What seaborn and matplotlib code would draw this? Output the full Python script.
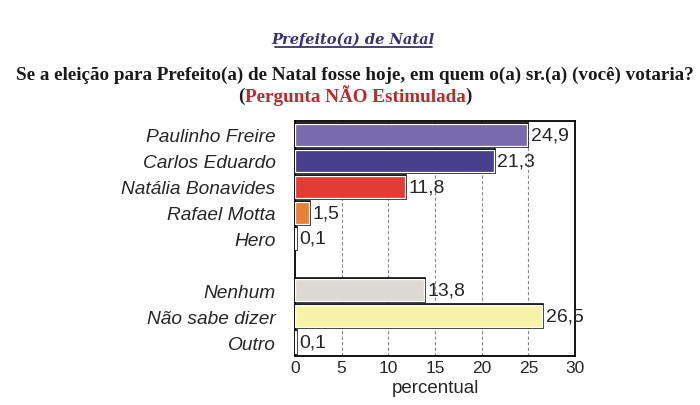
import matplotlib
matplotlib.use("Agg")
import matplotlib.pyplot as plt
import seaborn as sns
import pandas as pd
import numpy as np

categories = ["Paulinho Freire", "Carlos Eduardo", "Natália Bonavides", "Rafael Motta",
              "Hero", " ", "Nenhum", "Não sabe dizer", "Outro"]
values = [24.9, 21.3, 11.8, 1.5, 0.1, np.nan, 13.8, 26.5, 0.1]
labels = ["24,9", "21,3", "11,8", "1,5", "0,1", "", "13,8", "26,5", "0,1"]
colors = ["#7A6AAE", "#4A3F8C", "#E33B36", "#E8803A", "#FFFFFF", "#FFFFFF",
          "#DDDAD6", "#F7F3A6", "#FFFFFF"]
xticks = [0, 5, 10, 15, 20, 25, 30]

sns.set_theme(style="white")
plt.rcParams['font.family'] = ['Liberation Sans', 'DejaVu Sans']

df = pd.DataFrame({"cat": categories, "val": values})

fig = plt.figure(figsize=(7, 4.06), dpi=100)
ax = fig.add_axes([295/700, 1-357/406, 280/700, 235/406])

sns.barplot(data=df, y="cat", x="val", order=categories, hue="cat", hue_order=categories,
            palette=colors, legend=False, width=0.85, edgecolor="black", linewidth=2.6,
            ax=ax, zorder=3, saturation=1)
sns.barplot(data=df, y="cat", x="val", order=categories, hue="cat", hue_order=categories,
            palette=colors, legend=False, width=0.85, edgecolor="white", linewidth=0.9,
            ax=ax, zorder=4, saturation=1)

ax.set_xlim(0, 30)
ax.set_ylim(8.54, -0.54)
ax.set_xticks(xticks)
ax.set_xticklabels([str(t) for t in xticks], fontsize=12.5)
ax.set_yticks(range(len(categories)))
ax.set_yticklabels(categories, fontsize=13.8, style="italic")
ax.tick_params(axis="y", length=0, pad=14)
ax.tick_params(axis="x", length=0, pad=3)
for t in xticks[1:-1]:
    ax.axvline(t, color="#888888", linestyle=(0, (3, 2)), linewidth=0.8, zorder=1)
for s in ax.spines.values():
    s.set_visible(True)
    s.set_color("black")
    s.set_linewidth(1.3)
ax.set_xlabel("percentual", fontsize=13.5, labelpad=3)
ax.set_ylabel("")

for i, (v, lab) in enumerate(zip(values, labels)):
    if lab:
        ax.text(v + 0.35, i, lab, va="center", ha="left", fontsize=14, zorder=5)

fig.text(353/700, 1-40/406, "Prefeito(a) de Natal", ha="center", va="center",
         fontsize=10.5, fontweight="bold", style="italic", color="#3C3270",
         family=["DejaVu Serif"])
fig.add_artist(plt.Line2D([275/700, 432/700], [1-48/406, 1-48/406], color="#3C3270", linewidth=1.3))

fig.text(355/700, 1-75/406, "Se a eleição para Prefeito(a) de Natal fosse hoje, em quem o(a) sr.(a) (você) votaria?",
         ha="center", va="center", fontsize=13.8, fontweight="bold", color="#1a1a1a",
         family=["Liberation Serif"])

fig.canvas.draw()
r = fig.canvas.get_renderer()
pieces = [("(", "#1a1a1a"), ("Pergunta NÃO Estimulada", "#C0282D"), (")", "#1a1a1a")]
objs = [fig.text(0, 1-96/406, s, ha="left", va="center", fontsize=13.8, fontweight="bold",
                 color=c, family=["Liberation Serif"]) for s, c in pieces]
widths = [o.get_window_extent(r).width for o in objs]
x = 355 - sum(widths)/2
for o, w in zip(objs, widths):
    o.set_x(x/700)
    x += w

fig.savefig("out.png", dpi=100, facecolor="white")
